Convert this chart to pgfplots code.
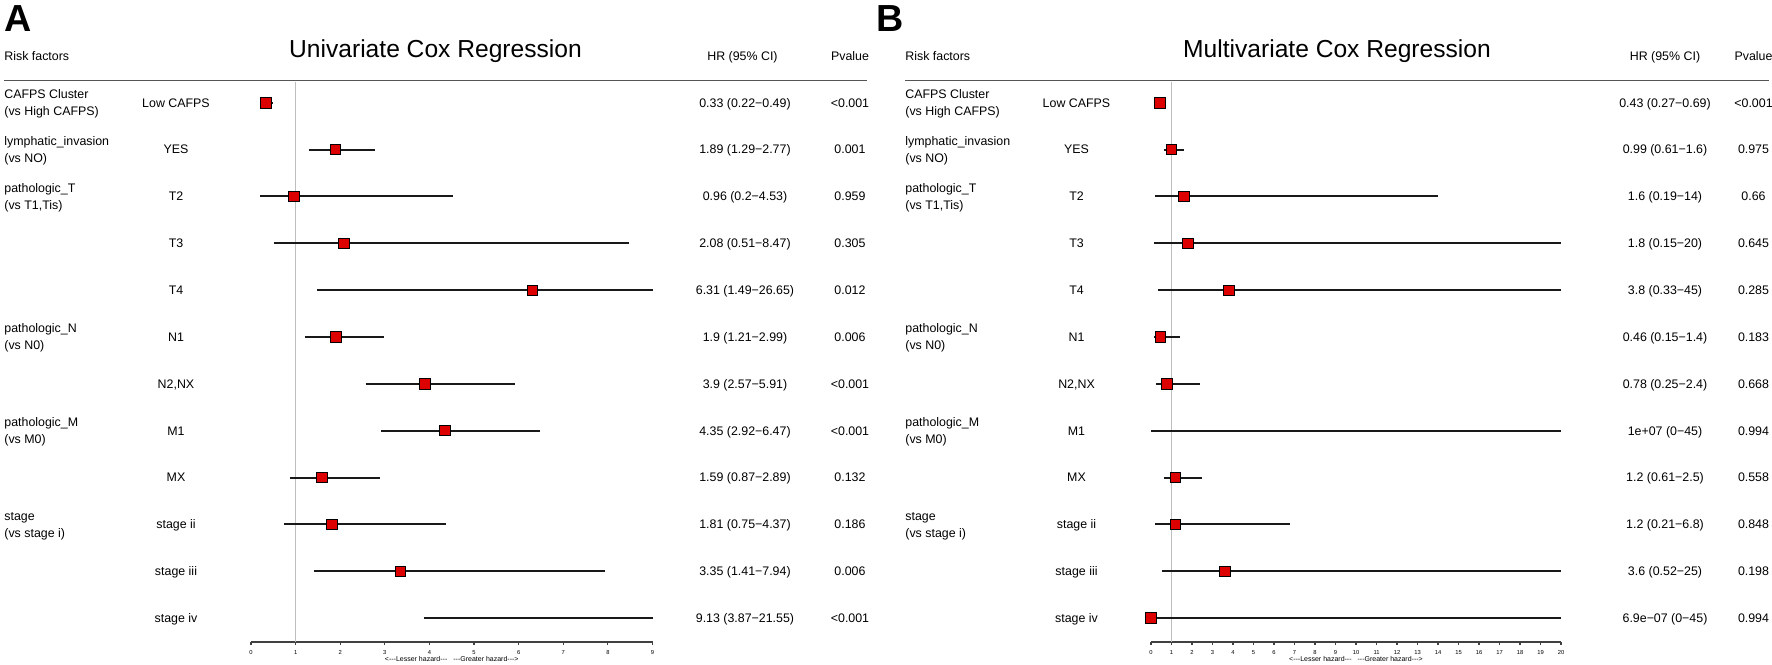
\documentclass[border=0pt]{standalone}
\usepackage{pgfplots}
\pgfplotsset{compat=1.18}
\usepackage{pgfplotstable}
\usepackage{fontspec}
\setmainfont{Liberation Sans}
\definecolor{boxred}{RGB}{220,0,0}
\definecolor{rulegray}{RGB}{85,85,85}
\definecolor{refgray}{RGB}{190,190,190}

\newcommand\lab{\fontsize{6.2}{7}\selectfont}
\newcommand\ttl{\fontsize{12.3}{14}\selectfont}
\newcommand\tck{\fontsize{2.9}{3.3}\selectfont}
\newcommand\hz{\fontsize{3.5}{4}\selectfont}
\newcommand\dd{-{}-{}-}

% row y (px) = 102.75 + 46.85*i ; baseline = +4.4
\newcommand\Rc[3]{\node[anchor=base,inner sep=0pt] at (#1,{107.1+46.85*#2}) {\lab #3};}
\newcommand\Grp[4]{%
  \node[anchor=base west,inner sep=0pt] at (#1,{107.1-8.6+46.85*#2}) {\lab #3};
  \node[anchor=base west,inner sep=0pt] at (#1,{107.1+8.6+46.85*#2}) {\lab #4};}

% Univariate: row, HR
\pgfplotstableread{
row hr
0 0.33
1 1.89
2 0.96
3 2.08
4 6.31
5 1.9
6 3.9
7 4.35
8 1.59
9 1.81
10 3.35
}\boxA
% CI segments (lo, hi); 26.65 and 21.55 clipped at axis max 9
\pgfplotstableread{
x y
0.22 0
0.49 0
nan nan
1.29 1
2.77 1
nan nan
0.2 2
4.53 2
nan nan
0.51 3
8.47 3
nan nan
1.49 4
9 4
nan nan
1.21 5
2.99 5
nan nan
2.57 6
5.91 6
nan nan
2.92 7
6.47 7
nan nan
0.87 8
2.89 8
nan nan
0.75 9
4.37 9
nan nan
1.41 10
7.94 10
nan nan
3.87 11
9 11
}\ciA

% Multivariate
\pgfplotstableread{
row hr
0 0.43
1 0.99
2 1.6
3 1.8
4 3.8
5 0.46
6 0.78
8 1.2
9 1.2
10 3.6
11 0.00000069
}\boxB
% upper limits 25 and 45 clipped at axis max 20
\pgfplotstableread{
x y
0.27 0
0.69 0
nan nan
0.61 1
1.6 1
nan nan
0.19 2
14 2
nan nan
0.15 3
20 3
nan nan
0.33 4
20 4
nan nan
0.15 5
1.4 5
nan nan
0.25 6
2.4 6
nan nan
0 7
20 7
nan nan
0.61 8
2.5 8
nan nan
0.21 9
6.8 9
nan nan
0.52 10
20 10
nan nan
0 11
20 11
}\ciB

\pgfplotsset{
  forest/.style={
    scale only axis, height=280pt, anchor=south west,
    ymin=-11.511, ymax=0.442,
    axis x line*=bottom, axis y line=none,
    x axis line style={-, line width=0.6pt, color=black!75},
    xtick style={line width=0.6pt, color=black!75},
    tick align=outside, major tick length=1.35pt,
    /pgf/number format/assume math mode=true,
    xticklabel style={font=\tck, inner sep=0pt, anchor=north, yshift=-2.7pt},
    clip=false, unbounded coords=jump,
  }
}

\begin{document}
\begin{tikzpicture}
\useasboundingbox (0,0) rectangle (886pt,-332pt);

\begin{axis}[forest, width=200.75pt, at={(125.5pt,-321pt)},
  xmin=0, xmax=9, xtick={0,1,...,9}]
  \addplot[refgray, line width=0.65pt] coordinates {(1,0.442) (1,-11.511)};
  \addplot[black!90, line width=1pt] table[x=x, y expr=-\thisrow{y}] {\ciA};
  \addplot[only marks, mark=square*, mark size=2.6pt, mark options={fill=boxred, draw=none}]
    table[x=hr, y expr=-\thisrow{row}] {\boxA};
\end{axis}

\begin{axis}[forest, width=205pt, at={(575.5pt,-321pt)},
  xmin=0, xmax=20, xtick={0,1,...,20}]
  \addplot[refgray, line width=0.65pt] coordinates {(1,0.442) (1,-11.511)};
  \addplot[black!90, line width=1pt] table[x=x, y expr=-\thisrow{y}] {\ciB};
  \addplot[only marks, mark=square*, mark size=2.6pt, mark options={fill=boxred, draw=none}]
    table[x=hr, y expr=-\thisrow{row}] {\boxB};
\end{axis}

\begin{scope}[x=0.5pt, y=-0.5pt]
% ---------- Panel A ----------
\node[anchor=base west, inner sep=0pt] at (4,32) {\fontsize{18.85}{20}\selectfont\bfseries A};
\node[anchor=base west, inner sep=0pt] at (4,61) {\lab Risk factors};
\node[anchor=base, inner sep=0pt] at (435.5,57) {\ttl Univariate Cox Regression};
\node[anchor=base, inner sep=0pt] at (742.5,61) {\lab HR (95\% CI)};
\node[anchor=base, inner sep=0pt] at (850,61) {\lab Pvalue};
\draw[rulegray, line width=0.65pt] (4,80.5) -- (867,80.5);
\node[anchor=base, inner sep=0pt] at (451.75,661.5) {\hz <\dd Lesser hazard\dd\hspace{3pt}\dd Greater hazard\dd>};

\Grp{4}{0}{CAFPS Cluster}{(vs High CAFPS)}
\Grp{4}{1}{lymphatic\_invasion}{(vs NO)}
\Grp{4}{2}{pathologic\_T}{(vs T1,Tis)}
\Grp{4}{5}{pathologic\_N}{(vs N0)}
\Grp{4}{7}{pathologic\_M}{(vs M0)}
\Grp{4}{9}{stage}{(vs stage i)}

\foreach \t [count=\i from 0] in {Low CAFPS,YES,T2,T3,T4,N1,{N2,NX},M1,MX,stage ii,stage iii,stage iv}
  {\Rc{176}{\i}{\t}\Rc{1076.5}{\i}{\t}}

\foreach \t [count=\i from 0] in {0.33 (0.22−0.49),1.89 (1.29−2.77),0.96 (0.2−4.53),2.08 (0.51−8.47),6.31 (1.49−26.65),1.9 (1.21−2.99),3.9 (2.57−5.91),4.35 (2.92−6.47),1.59 (0.87−2.89),1.81 (0.75−4.37),3.35 (1.41−7.94),9.13 (3.87−21.55)}
  {\Rc{745}{\i}{\t}}
\foreach \t [count=\i from 0] in {<0.001,0.001,0.959,0.305,0.012,0.006,<0.001,<0.001,0.132,0.186,0.006,<0.001}
  {\Rc{850}{\i}{\t}}

% ---------- Panel B ----------
\node[anchor=base west, inner sep=0pt] at (876,32) {\fontsize{18.85}{20}\selectfont\bfseries B};
\node[anchor=base west, inner sep=0pt] at (905,61) {\lab Risk factors};
\node[anchor=base, inner sep=0pt] at (1337,57) {\ttl Multivariate Cox Regression};
\node[anchor=base, inner sep=0pt] at (1665,61) {\lab HR (95\% CI)};
\node[anchor=base, inner sep=0pt] at (1753.5,61) {\lab Pvalue};
\draw[rulegray, line width=0.65pt] (905,80.5) -- (1769,80.5);
\node[anchor=base, inner sep=0pt] at (1356,661.5) {\hz <\dd Lesser hazard\dd\hspace{3pt}\dd Greater hazard\dd>};

\Grp{905}{0}{CAFPS Cluster}{(vs High CAFPS)}
\Grp{905}{1}{lymphatic\_invasion}{(vs NO)}
\Grp{905}{2}{pathologic\_T}{(vs T1,Tis)}
\Grp{905}{5}{pathologic\_N}{(vs N0)}
\Grp{905}{7}{pathologic\_M}{(vs M0)}
\Grp{905}{9}{stage}{(vs stage i)}

\foreach \t [count=\i from 0] in {0.43 (0.27−0.69),0.99 (0.61−1.6),1.6 (0.19−14),1.8 (0.15−20),3.8 (0.33−45),0.46 (0.15−1.4),0.78 (0.25−2.4),1e+07 (0−45),1.2 (0.61−2.5),1.2 (0.21−6.8),3.6 (0.52−25),6.9e−07 (0−45)}
  {\Rc{1665}{\i}{\t}}
\foreach \t [count=\i from 0] in {<0.001,0.975,0.66,0.645,0.285,0.183,0.668,0.994,0.558,0.848,0.198,0.994}
  {\Rc{1753.5}{\i}{\t}}
\end{scope}
\end{tikzpicture}
\end{document}
